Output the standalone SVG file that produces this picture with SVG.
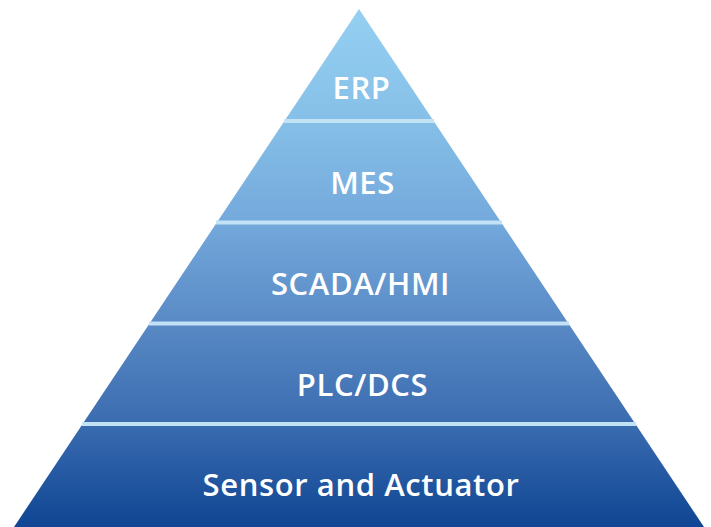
<svg xmlns="http://www.w3.org/2000/svg" width="711" height="527" viewBox="0 0 711 527">
<defs>
<linearGradient id="g" gradientUnits="userSpaceOnUse" x1="0" y1="9" x2="0" y2="527">
<stop offset="0" stop-color="#95d0f2"/>
<stop offset="0.21" stop-color="#86c0e8"/>
<stop offset="0.41" stop-color="#74a9dc"/>
<stop offset="0.6" stop-color="#5a8bc6"/>
<stop offset="0.8" stop-color="#3a6cb0"/>
<stop offset="1" stop-color="#0f4593"/>
</linearGradient>
<style>
.lbl{font-family:"Open Sans","Noto Sans",sans-serif;font-weight:600;font-size:31px;letter-spacing:0.6px;fill:#ffffff;text-anchor:middle}
.sep{fill:#c2e2f6}
</style>
</defs>
<polygon points="359,9 704,527 14,527" fill="url(#g)"/>
<g id="connectors">
<rect class="sep" x="284" y="119" width="150" height="4"/>
<rect class="sep" x="216" y="220.5" width="286" height="4"/>
<rect class="sep" x="149" y="321.5" width="420" height="4"/>
<rect class="sep" x="82" y="422" width="554" height="4"/>
</g>
<g id="erp"><text class="lbl" x="361.5" y="99">ERP</text></g>
<g id="mes"><text class="lbl" x="362.5" y="194">MES</text></g>
<g id="scada"><text class="lbl" x="360.5" y="295">SCADA/HMI</text></g>
<g id="plc"><text class="lbl" x="362.5" y="396">PLC/DCS</text></g>
<g id="sensor"><text class="lbl" x="361" y="496">Sensor and Actuator</text></g>
</svg>
